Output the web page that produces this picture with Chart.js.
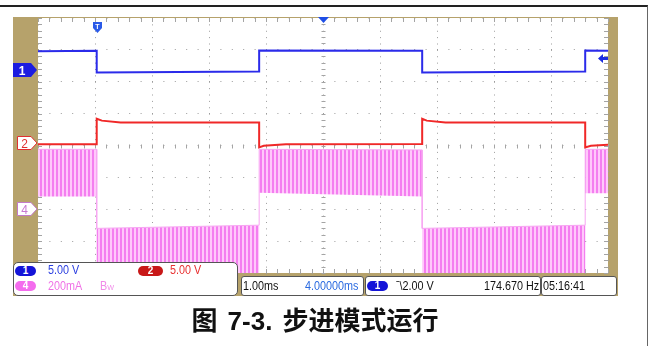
<!DOCTYPE html>
<html>
<head>
<meta charset="utf-8">
<script src="https://cdn.jsdelivr.net/npm/chart.js@4.4.1/dist/chart.umd.min.js"></script>
<style>
  body { margin: 0; background: #fff; }
  #wrap { position: relative; width: 649px; height: 346px; overflow: hidden; background: #fff; }
  .abs { position: absolute; }
  .frame { left: -2px; top: 5px; width: 650px; height: 400px; box-sizing: border-box; border-top: 2px solid #222; border-right: 1px solid #666; }
  .panel { left: 13px; top: 17px; width: 605px; height: 279px; background: #b6a26b; }
  #scope { position: absolute; left: 0; top: 0; z-index: 1; }
  .over { z-index: 2; }
  .box { background: #fff; border: 1px solid #555; box-sizing: border-box; border-radius: 3px; }
  .txt { font: 12px/12px "Liberation Sans", Arial, sans-serif; white-space: nowrap; transform: scaleX(0.9); transform-origin: 0 0; }
  .pill { width: 21px; height: 10px; border-radius: 5px; color: #fff; font: bold 10px/10px "Liberation Sans", Arial, sans-serif; text-align: center; }
  .caption { left: 0; width: 630px; top: 308px; text-align: center; font: bold 26px/26px "Liberation Sans", "Noto Sans CJK SC", sans-serif; color: #111; word-spacing: 3px; }
</style>
</head>
<body>
<div id="wrap">
  <div class="abs frame"></div>
  <div class="abs panel"></div>
  <canvas id="scope" width="649" height="346"></canvas>

  <!-- channel markers -->
  <svg class="abs over" style="left:13px;top:63px" width="25" height="15">
    <polygon points="0,0 18,0 24,7 18,14 0,14" fill="#1c1ce0"/>
    <text x="9" y="12" font-size="12" font-weight="bold" fill="#fff" text-anchor="middle" font-family="Liberation Sans">1</text>
  </svg>
  <svg class="abs over" style="left:17px;top:136px" width="21" height="15">
    <polygon points="0.5,0.5 14,0.5 20,7 14,13.5 0.5,13.5" fill="#fff" stroke="#e03030"/>
    <text x="7.5" y="12" font-size="12" fill="#e03030" text-anchor="middle" font-family="Liberation Sans">2</text>
  </svg>
  <svg class="abs over" style="left:17px;top:202px" width="21" height="15">
    <polygon points="0.5,0.5 14,0.5 20,7 14,13.5 0.5,13.5" fill="#fff" stroke="#c27ac8"/>
    <text x="7.5" y="12" font-size="12" fill="#c87ad2" text-anchor="middle" font-family="Liberation Sans">4</text>
  </svg>
  <svg class="abs over" style="left:93px;top:22px" width="9" height="11">
    <polygon points="0,0 9,0 9,6 4.5,11 0,6" fill="#2a5ae8"/>
    <text x="4.5" y="7" font-size="7" font-weight="bold" fill="#fff" text-anchor="middle" font-family="Liberation Sans">T</text>
  </svg>
  <svg class="abs over" style="left:318px;top:17px" width="11" height="7">
    <polygon points="0,0 11,0 5.5,6" fill="#1e4ee6"/>
  </svg>
  <svg class="abs over" style="left:598px;top:54px" width="10" height="9">
    <polygon points="0,4.5 5,0 5,3 10,3 10,6 5,6 5,9" fill="#1c2ce0"/>
  </svg>

  <!-- readouts -->
  <div class="abs over box" style="left:13px;top:262px;width:225px;height:34px;border-radius:5px"></div>
  <div class="abs over pill" style="left:15px;top:266px;background:#1414d8">1</div>
  <div class="abs over txt" style="left:48px;top:264px;color:#2a3ee0">5.00 V</div>
  <div class="abs over pill" style="left:138px;top:266px;width:25px;background:#c81818">2</div>
  <div class="abs over txt" style="left:170px;top:264px;color:#e83030">5.00 V</div>
  <div class="abs over pill" style="left:15px;top:281px;background:#f46cee">4</div>
  <div class="abs over txt" style="left:48px;top:280px;color:#f070e6">200mA</div>
  <div class="abs over txt" style="left:100px;top:280px;color:#f08ae8">B<span style="font-size:8px">W</span></div>

  <div class="abs over box" style="left:241px;top:276px;width:123px;height:20px"></div>
  <div class="abs over txt" style="left:243px;top:280px;color:#111">1.00ms</div>
  <div class="abs over txt" style="left:305px;top:280px;color:#2a6ae0">4.00000ms</div>

  <div class="abs over box" style="left:365px;top:276px;width:176px;height:20px"></div>
  <div class="abs over pill" style="left:367px;top:281px;background:#1414d8">1</div>
  <div class="abs over txt" style="left:396px;top:280px;color:#111">ˉ\2.00 V</div>
  <div class="abs over txt" style="left:484px;top:280px;color:#111">174.670 Hz</div>

  <div class="abs over box" style="left:541px;top:276px;width:76px;height:20px"></div>
  <div class="abs over txt" style="left:543px;top:280px;color:#111">05:16:41</div>

  <div class="abs over caption">图 7-3. 步进模式运行</div>
</div>

<script>
// time in ms from the left edge of the screen (1.00 ms/div, 10 divisions)
// levels in screen divisions, 0 = centre line, +-4 = top / bottom edge
const ch1Time = [0, 1.03, 1.03, 3.88, 3.88, 6.74, 6.74, 9.6, 9.6, 10];
const ch1Level = [2.96, 2.97, 2.29, 2.32, 2.98, 2.97, 2.29, 2.32, 2.98, 2.97];

const ch2Time = [0, 1.03, 1.03, 1.12, 1.45, 3.88, 3.88, 3.96, 4.35, 6.74, 6.74, 6.82, 7.15, 9.6, 9.6, 9.7, 10];
const ch2Level = [0.04, 0.04, 0.84, 0.78, 0.72, 0.72, -0.06, -0.01, 0.04, 0.05, 0.84, 0.78, 0.72, 0.72, -0.06, -0.01, 0.02];

// motor current: envelope of the chopped waveform
const ch4Time = [0, 1.03, 1.03, 3.88, 3.88, 6.74, 6.74, 9.6, 9.6, 10];
const ch4Top = [-0.12, -0.12, -2.6, -2.5, -0.12, -0.14, -2.6, -2.5, -0.12, -0.12];
const ch4Bottom = [-1.6, -1.6, -4.4, -4.4, -1.48, -1.6, -4.4, -4.4, -1.5, -1.5];

const xTicks = [0, 1, 2, 3, 4, 5, 6, 7, 8, 9, 10];
const yTicks = [-4, -3, -2, -1, 0, 1, 2, 3, 4];

const xy = (t, v) => t.map((x, i) => ({ x, y: v[i] }));

function stripes(ctx) {
    const c = document.createElement("canvas");
    c.width = 4; c.height = 1;
    const p = c.getContext("2d");
    p.fillStyle = "#ffc8fb"; p.fillRect(0, 0, 4, 1);
    p.fillStyle = "#f47ef0"; p.fillRect(0, 0, 2, 1);
    return ctx.createPattern(c, "repeat");
}

// white screen + minor ticks on the edges and the centre lines
const graticule = {
    id: "graticule",
    beforeDraw(chart) {
        const { ctx, chartArea: a } = chart;
        ctx.save();
        ctx.fillStyle = "#fff";
        ctx.fillRect(a.left, a.top, a.right - a.left, a.bottom - a.top);
        ctx.restore();
    },
    beforeDatasetsDraw(chart) {
        const { ctx, chartArea: a, scales: { x, y } } = chart;
        const cx = Math.round(x.getPixelForValue(5)) + 0.5;
        const cy = Math.round(y.getPixelForValue(0)) + 0.5;
        ctx.save();
        ctx.strokeStyle = "#a4a4a4";
        ctx.lineWidth = 1;
        ctx.beginPath();
        for (let i = 0; i <= 50; i++) {
            const px = Math.round(x.getPixelForValue(i / 5)) + 0.5;
            ctx.moveTo(px, a.top); ctx.lineTo(px, a.top + 4);
            ctx.moveTo(px, a.bottom); ctx.lineTo(px, a.bottom - 4);
            ctx.moveTo(px, cy - 2); ctx.lineTo(px, cy + 2);
        }
        for (let i = 0; i <= 40; i++) {
            const py = Math.round(y.getPixelForValue(-4 + i / 5)) + 0.5;
            ctx.moveTo(a.left, py); ctx.lineTo(a.left + 4, py);
            ctx.moveTo(a.right, py); ctx.lineTo(a.right - 4, py);
            ctx.moveTo(cx - 2, py); ctx.lineTo(cx + 2, py);
        }
        ctx.stroke();
        ctx.restore();
    }
};

const canvas = document.getElementById("scope");
const ctx = canvas.getContext("2d");

new Chart(ctx, {
    type: "line",
    data: {
        datasets: [
            { data: xy(ch4Time, ch4Bottom), borderWidth: 0, borderColor: "rgba(0,0,0,0)", fill: false, order: 3, clip: 0 },
            { data: xy(ch4Time, ch4Top), borderWidth: 1, borderColor: "#f7a6f2", backgroundColor: stripes(ctx), fill: "-1", order: 3, clip: 0 },
            { data: xy(ch2Time, ch2Level), borderWidth: 2, borderColor: "#f02828", order: 2, clip: 0 },
            { data: xy(ch1Time, ch1Level), borderWidth: 2, borderColor: "#2b2bea", order: 1, clip: 0 }
        ]
    },
    options: {
        responsive: false,
        animation: false,
        events: [],
        layout: { padding: { left: 38, right: 41, top: 18, bottom: 73 } },
        elements: { point: { radius: 0 }, line: { tension: 0 } },
        plugins: { legend: { display: false }, tooltip: { enabled: false } },
        scales: {
            x: {
                type: "linear", min: 0, max: 10,
                afterBuildTicks: s => { s.ticks = xTicks.map(v => ({ value: v })); },
                ticks: { display: false },
                grid: { color: "#9c9c9c", lineWidth: 1, drawTicks: false },
                border: { display: false, dash: [1, 5.375] }
            },
            y: {
                type: "linear", min: -4, max: 4,
                afterBuildTicks: s => { s.ticks = yTicks.map(v => ({ value: v })); },
                ticks: { display: false },
                grid: { color: "#9c9c9c", lineWidth: 1, drawTicks: false },
                border: { display: false, dash: [1, 10.4] }
            }
        }
    },
    plugins: [graticule]
});
</script>
</body>
</html>
